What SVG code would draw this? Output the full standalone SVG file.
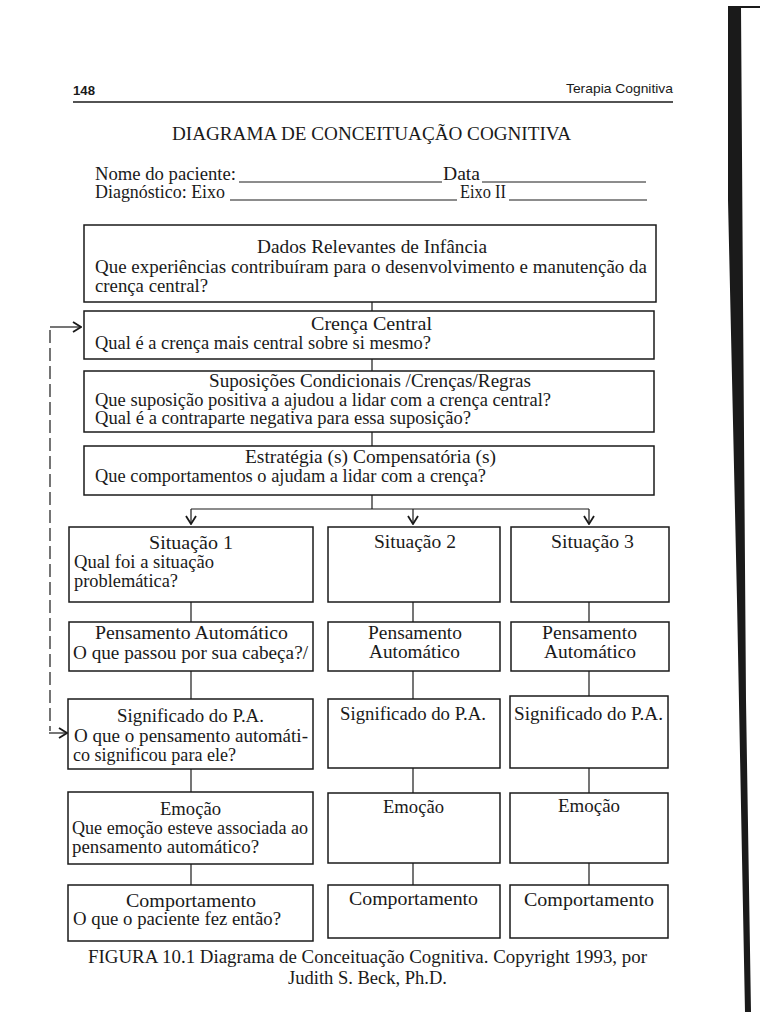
<svg xmlns="http://www.w3.org/2000/svg" width="768" height="1024" viewBox="0 0 768 1024">
<style>
text{font-family:"Liberation Serif","Times New Roman",serif;font-size:18px;fill:#1a1a1a}
.hd{font-family:"Liberation Sans",Arial,sans-serif;font-size:13px}
.box{fill:#fff;stroke:#1a1a1a;stroke-width:1.5}
.ln{stroke:#1a1a1a;stroke-width:1.2;fill:none}
.ul{stroke:#1a1a1a;stroke-width:1}
</style>
<defs>
<marker id="ah" viewBox="0 0 10 12" refX="9" refY="6" markerWidth="10" markerHeight="12" markerUnits="userSpaceOnUse" orient="auto"><path d="M1,1 L9,6 L1,11" fill="none" stroke="#1a1a1a" stroke-width="1.8"/></marker>
</defs>
<rect width="768" height="1024" fill="#fff"/>
<g id="page-edge">
<polygon points="728,7 741,7 743,300 746,700 751,1012 745,1012 737,600 728,200" fill="#1a1a1a"/>
<line x1="728" y1="7" x2="760" y2="7" stroke="#1a1a1a" stroke-width="2"/>
</g>
<g id="header">
<text class="hd" x="73" y="95" font-weight="bold" textLength="22" lengthAdjust="spacingAndGlyphs">148</text>
<text class="hd" x="566" y="93" textLength="107" lengthAdjust="spacingAndGlyphs">Terapia Cognitiva</text>
<line x1="73" y1="102" x2="673" y2="102" stroke="#1a1a1a" stroke-width="1.5"/>
<text x="172" y="140" textLength="399" lengthAdjust="spacingAndGlyphs">DIAGRAMA DE CONCEITUAÇÃO COGNITIVA</text>
<text x="95" y="180" textLength="141" lengthAdjust="spacingAndGlyphs">Nome do paciente:</text>
<line class="ul" x1="239" y1="182" x2="442" y2="182"/>
<text x="443" y="180" textLength="37" lengthAdjust="spacingAndGlyphs">Data</text>
<line class="ul" x1="482" y1="182" x2="646" y2="182"/>
<text x="95" y="198" textLength="130" lengthAdjust="spacingAndGlyphs">Diagnóstico: Eixo</text>
<line class="ul" x1="230" y1="200" x2="457" y2="200"/>
<text x="460" y="198" textLength="46" lengthAdjust="spacingAndGlyphs">Eixo II</text>
<line class="ul" x1="509" y1="200" x2="647" y2="200"/>
</g>
<g id="connectors">
<line class="ln" x1="372" y1="302" x2="372" y2="311"/>
<line class="ln" x1="372" y1="359" x2="372" y2="371"/>
<line class="ln" x1="372" y1="432" x2="372" y2="446"/>
<line class="ln" x1="372" y1="495" x2="372" y2="509"/>
<line class="ln" x1="191" y1="509" x2="589" y2="509"/>
<line class="ln" x1="191" y1="509" x2="191" y2="524" marker-end="url(#ah)"/>
<line class="ln" x1="413" y1="509" x2="413" y2="524" marker-end="url(#ah)"/>
<line class="ln" x1="589" y1="509" x2="589" y2="524" marker-end="url(#ah)"/>
<line class="ln" x1="191" y1="602" x2="191" y2="622"/>
<line class="ln" x1="413" y1="602" x2="413" y2="622"/>
<line class="ln" x1="589" y1="602" x2="589" y2="622"/>
<line class="ln" x1="191" y1="671" x2="191" y2="699"/>
<line class="ln" x1="413" y1="671" x2="413" y2="699"/>
<line class="ln" x1="589" y1="671" x2="589" y2="696"/>
<line class="ln" x1="191" y1="769" x2="191" y2="792"/>
<line class="ln" x1="413" y1="768" x2="413" y2="793"/>
<line class="ln" x1="589" y1="768" x2="589" y2="793"/>
<line class="ln" x1="191" y1="864" x2="191" y2="885"/>
<line class="ln" x1="413" y1="863" x2="413" y2="885"/>
<line class="ln" x1="589" y1="863" x2="589" y2="885"/>
<line class="ln" x1="50" y1="330" x2="50" y2="731" stroke-dasharray="13 5" stroke-width="1.8"/>
<line class="ln" x1="50" y1="327" x2="81" y2="327" stroke-width="1.6" marker-end="url(#ah)"/>
<line class="ln" x1="49" y1="733" x2="67" y2="733" stroke-width="1.6" marker-end="url(#ah)"/>
</g>
<g id="dados-infancia">
<rect class="box" x="84" y="225" width="572" height="77"/>
<text x="257" y="253" textLength="230" lengthAdjust="spacingAndGlyphs">Dados Relevantes de Infância</text>
<text x="95" y="273" textLength="552" lengthAdjust="spacingAndGlyphs">Que experiências contribuíram para o desenvolvimento e manutenção da</text>
<text x="95" y="292" textLength="113" lengthAdjust="spacingAndGlyphs">crença central?</text>
</g>
<g id="crenca-central">
<rect class="box" x="84" y="311" width="570" height="48"/>
<text x="311" y="330" textLength="121" lengthAdjust="spacingAndGlyphs">Crença Central</text>
<text x="95" y="349" textLength="336" lengthAdjust="spacingAndGlyphs">Qual é a crença mais central sobre si mesmo?</text>
</g>
<g id="suposicoes">
<rect class="box" x="84" y="371" width="570" height="61"/>
<text x="209" y="387" textLength="322" lengthAdjust="spacingAndGlyphs">Suposições Condicionais /Crenças/Regras</text>
<text x="95" y="406" textLength="456" lengthAdjust="spacingAndGlyphs">Que suposição positiva a ajudou a lidar com a crença central?</text>
<text x="95" y="424" textLength="376" lengthAdjust="spacingAndGlyphs">Qual é a contraparte negativa para essa suposição?</text>
</g>
<g id="estrategias">
<rect class="box" x="84" y="446" width="570" height="49"/>
<text x="245" y="463" textLength="251" lengthAdjust="spacingAndGlyphs">Estratégia (s) Compensatória (s)</text>
<text x="95" y="482" textLength="391" lengthAdjust="spacingAndGlyphs">Que comportamentos o ajudam a lidar com a crença?</text>
</g>
<g id="situacao-1">
<rect class="box" x="69" y="527" width="244" height="75"/>
<text x="149" y="549" textLength="84" lengthAdjust="spacingAndGlyphs">Situação 1</text>
<text x="74" y="568" textLength="140" lengthAdjust="spacingAndGlyphs">Qual foi a situação</text>
<text x="74" y="587" textLength="104" lengthAdjust="spacingAndGlyphs">problemática?</text>
</g>
<g id="situacao-2">
<rect class="box" x="328" y="527" width="172" height="75"/>
<text x="374" y="548" textLength="82" lengthAdjust="spacingAndGlyphs">Situação 2</text>
</g>
<g id="situacao-3">
<rect class="box" x="511" y="527" width="158" height="75"/>
<text x="551" y="548" textLength="83" lengthAdjust="spacingAndGlyphs">Situação 3</text>
</g>
<g id="pensamento-1">
<rect class="box" x="69" y="622" width="244" height="49"/>
<text x="95" y="639" textLength="193" lengthAdjust="spacingAndGlyphs">Pensamento Automático</text>
<text x="73" y="659" textLength="235" lengthAdjust="spacingAndGlyphs">O que passou por sua cabeça?/</text>
</g>
<g id="pensamento-2">
<rect class="box" x="328" y="622" width="172" height="49"/>
<text x="368" y="639" textLength="94" lengthAdjust="spacingAndGlyphs">Pensamento</text>
<text x="369" y="658" textLength="91" lengthAdjust="spacingAndGlyphs">Automático</text>
</g>
<g id="pensamento-3">
<rect class="box" x="511" y="622" width="158" height="49"/>
<text x="542" y="639" textLength="95" lengthAdjust="spacingAndGlyphs">Pensamento</text>
<text x="544" y="658" textLength="92" lengthAdjust="spacingAndGlyphs">Automático</text>
</g>
<g id="significado-1">
<rect class="box" x="68" y="699" width="245" height="70"/>
<text x="117" y="722" textLength="147" lengthAdjust="spacingAndGlyphs">Significado do P.A.</text>
<text x="74" y="742" textLength="234" lengthAdjust="spacingAndGlyphs">O que o pensamento automáti-</text>
<text x="73" y="761" textLength="163" lengthAdjust="spacingAndGlyphs">co significou para ele?</text>
</g>
<g id="significado-2">
<rect class="box" x="328" y="699" width="172" height="69"/>
<text x="340" y="720" textLength="146" lengthAdjust="spacingAndGlyphs">Significado do P.A.</text>
</g>
<g id="significado-3">
<rect class="box" x="510" y="696" width="158" height="72"/>
<text x="514" y="720" textLength="149" lengthAdjust="spacingAndGlyphs">Significado do P.A.</text>
</g>
<g id="emocao-1">
<rect class="box" x="68" y="792" width="245" height="72"/>
<text x="160" y="815" textLength="61" lengthAdjust="spacingAndGlyphs">Emoção</text>
<text x="72" y="834" textLength="236" lengthAdjust="spacingAndGlyphs">Que emoção esteve associada ao</text>
<text x="72" y="853" textLength="187" lengthAdjust="spacingAndGlyphs">pensamento automático?</text>
</g>
<g id="emocao-2">
<rect class="box" x="328" y="793" width="172" height="70"/>
<text x="383" y="813" textLength="61" lengthAdjust="spacingAndGlyphs">Emoção</text>
</g>
<g id="emocao-3">
<rect class="box" x="510" y="793" width="158" height="70"/>
<text x="558" y="812" textLength="62" lengthAdjust="spacingAndGlyphs">Emoção</text>
</g>
<g id="comportamento-1">
<rect class="box" x="68" y="885" width="245" height="56"/>
<text x="126" y="907" textLength="130" lengthAdjust="spacingAndGlyphs">Comportamento</text>
<text x="73" y="925" textLength="208" lengthAdjust="spacingAndGlyphs">O que o paciente fez então?</text>
</g>
<g id="comportamento-2">
<rect class="box" x="328" y="885" width="172" height="53"/>
<text x="349" y="905" textLength="129" lengthAdjust="spacingAndGlyphs">Comportamento</text>
</g>
<g id="comportamento-3">
<rect class="box" x="510" y="885" width="158" height="53"/>
<text x="524" y="906" textLength="130" lengthAdjust="spacingAndGlyphs">Comportamento</text>
</g>
<g id="caption">
<text x="88" y="963" textLength="559" lengthAdjust="spacingAndGlyphs">FIGURA 10.1 Diagrama de Conceituação Cognitiva. Copyright 1993, por</text>
<text x="288" y="984" textLength="159" lengthAdjust="spacingAndGlyphs">Judith S. Beck, Ph.D.</text>
</g>
</svg>
